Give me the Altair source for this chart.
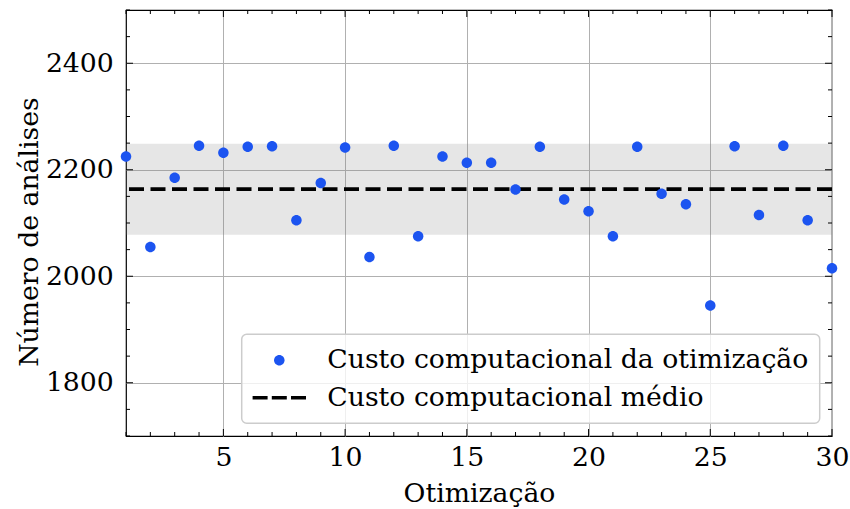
import altair as alt
import pandas as pd

# Number of analyses for each of the 30 optimisation runs
runs = list(range(1, 31))
evaluations = [2225, 2055, 2185, 2245, 2232, 2243, 2244, 2105, 2175, 2242,
               2036, 2245, 2075, 2225, 2213, 2213, 2163, 2243, 2144, 2122,
               2075, 2243, 2155, 2135, 1945, 2244, 2115, 2245, 2105, 2015]

# Shaded dispersion band around the mean
band_low = 2078
band_high = 2249

series_names = ["Custo computacional da otimização", "Custo computacional médio"]

x_major = [5, 10, 15, 20, 25, 30]
x_minor = [i for i in range(1, 31) if i % 5]
y_major = [1800, 2000, 2200, 2400]
y_minor = [v for v in range(1700, 2501, 50) if v % 200]

W, H = 706, 426
FONT = "DejaVu Serif"
FS = 26.7
BLUE = "#1c54f0"

# Legend symbols: a small dot and three short dashes (path units scale by sqrt(size)/2)
DOT = "M0.35,0 A0.35,0.35 0 1,1 -0.35,0 A0.35,0.35 0 1,1 0.35,0 Z"
DASH = ("M-1.78,-0.12 H-0.78 V0.12 H-1.78 Z "
        "M-0.5,-0.12 H0.5 V0.12 H-0.5 Z "
        "M0.78,-0.12 H1.78 V0.12 H0.78 Z")

x_scale = alt.Scale(domain=[1, 30], nice=False, zero=False)
y_scale = alt.Scale(domain=[1700, 2500], nice=False, zero=False)

x_axis = alt.Axis(values=x_major, title="Otimização", ticks=False, tickSize=0,
                  domain=False, grid=True, gridColor="#b0b0b0", gridWidth=1,
                  format="d", labelFont=FONT, labelFontSize=FS,
                  labelColor="black", labelBaseline="alphabetic",
                  labelPadding=29, labelFlush=False,
                  titleFont=FONT, titleFontSize=FS, titleFontWeight="normal",
                  titleColor="black", titleBaseline="alphabetic", titleY=65,
                  titleX=W / 2, titleAlign="center")
y_axis = alt.Axis(values=y_major, title="Número de análises", ticks=False,
                  tickSize=0, domain=False, grid=True, gridColor="#b0b0b0",
                  gridWidth=1, format="d", labelFont=FONT, labelFontSize=FS,
                  labelColor="black", labelPadding=12.7, labelFlush=False,
                  titleFont=FONT, titleFontSize=FS, titleFontWeight="normal",
                  titleColor="black", titleAngle=270, titleBaseline="alphabetic",
                  titleAlign="center", titleX=-89, titleY=221.5)

points_df = pd.DataFrame({"run": runs, "evals": evaluations,
                          "serie": series_names[0]})

band = alt.Chart(pd.DataFrame({"lo": [band_low], "hi": [band_high]})).mark_rect(
    color="gray", opacity=0.2
).encode(
    x=alt.value(0), x2=alt.value(W),
    y=alt.Y("lo:Q", scale=y_scale, axis=y_axis), y2="hi:Q",
)

mean_line = alt.Chart(points_df).transform_aggregate(
    evals="mean(evals)"
).mark_rule(color="black", strokeWidth=3.6, strokeDash=[15, 6.5],
            strokeCap="butt").encode(
    y=alt.Y("evals:Q", scale=y_scale, axis=y_axis),
)

points = alt.Chart(points_df).mark_point(filled=True, size=900, opacity=1).encode(
    x=alt.X("run:Q", scale=x_scale, axis=x_axis),
    y=alt.Y("evals:Q", scale=y_scale, axis=y_axis),
    color=alt.Color("serie:N", scale=alt.Scale(domain=series_names,
                                               range=[BLUE, "black"]),
                    legend=alt.Legend(title=None)),
    shape=alt.Shape("serie:N", scale=alt.Scale(domain=series_names,
                                               range=[DOT, DASH]),
                    legend=alt.Legend(title=None)),
)


def x_ticks(values, length, top):
    df = pd.DataFrame({"run": values})
    y0, y1 = (0, length) if top else (H, H - length)
    return alt.Chart(df).mark_rule(color="black", strokeWidth=1).encode(
        x=alt.X("run:Q", scale=x_scale, axis=x_axis),
        y=alt.value(y0), y2=alt.value(y1),
    )


def y_ticks(values, length, right):
    df = pd.DataFrame({"evals": values})
    x0, x1 = (W, W - length) if right else (0, length)
    return alt.Chart(df).mark_rule(color="black", strokeWidth=1).encode(
        y=alt.Y("evals:Q", scale=y_scale, axis=y_axis),
        x=alt.value(x0), x2=alt.value(x1),
    )


tick_layers = [
    x_ticks(x_major, 7, False), x_ticks(x_minor, 4, False),
    x_ticks(x_major, 7, True), x_ticks(x_minor, 4, True),
    y_ticks(y_major, 7, False), y_ticks(y_minor, 4, False),
    y_ticks(y_major, 7, True), y_ticks(y_minor, 4, True),
]

chart = alt.layer(band, *tick_layers, mean_line, points).properties(
    width=W, height=H,
    padding={"left": 126, "top": 10, "right": 18, "bottom": 73},
    autosize=alt.AutoSizeParams(type="none"),
    background="white",
).configure_view(
    stroke="black", strokeWidth=1.2,
).configure_legend(
    orient="none", legendX=115.7, legendY=324.3,
    labelFont=FONT, labelFontSize=FS, labelColor="black", labelLimit=0,
    symbolSize=900, symbolStrokeWidth=0, symbolOffset=11.6, labelOffset=33,
    padding=11, rowPadding=8.4,
    fillColor="rgba(255,255,255,0.8)", strokeColor="#cccccc",
    strokeWidth=1.5, cornerRadius=5,
)

chart.save("out.html", embed_options={"renderer": "svg", "actions": False})
